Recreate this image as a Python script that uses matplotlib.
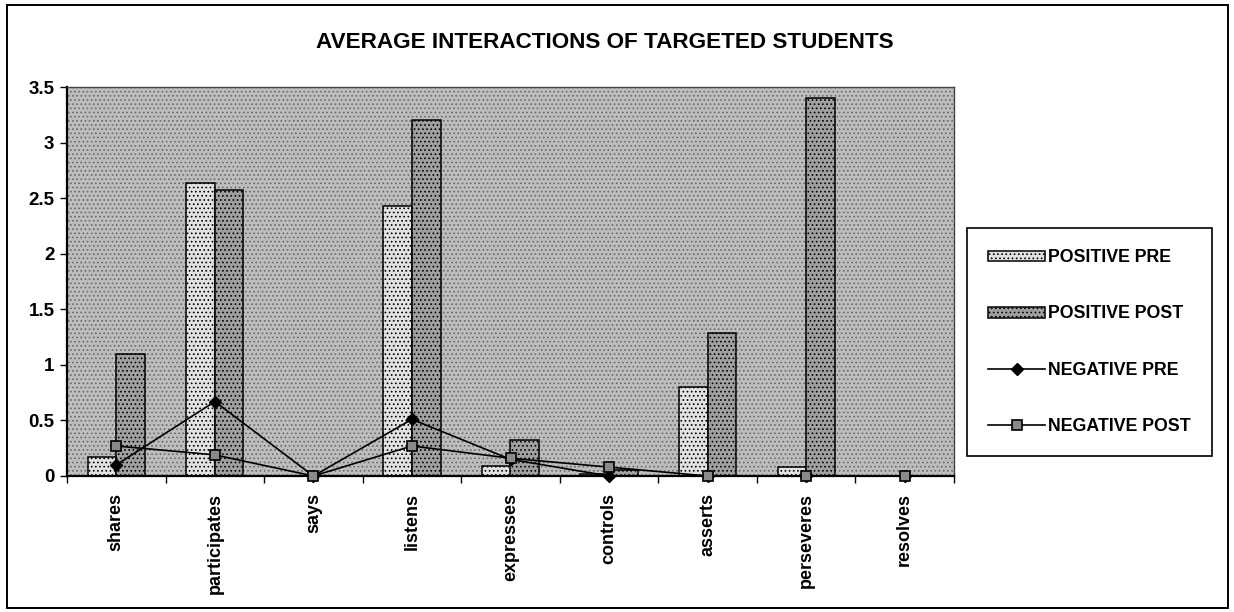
import matplotlib
matplotlib.use("Agg")
import matplotlib.pyplot as plt
import numpy as np
from matplotlib.patches import Rectangle

categories = ["shares", "participates", "says", "listens", "expresses",
              "controls", "asserts", "perseveres", "resolves"]
positive_pre = [0.17, 2.64, 0.0, 2.43, 0.09, 0.02, 0.80, 0.08, 0.0]
positive_post = [1.10, 2.57, 0.0, 3.20, 0.32, 0.05, 1.29, 3.40, 0.0]
negative_pre = [0.10, 0.67, 0.0, 0.51, 0.15, 0.0, 0.0, 0.0, 0.0]
negative_post = [0.27, 0.19, 0.0, 0.27, 0.16, 0.08, 0.0, 0.0, 0.0]
yticks = [0, 0.5, 1, 1.5, 2, 2.5, 3, 3.5]
ytick_labels = ["0", "0.5", "1", "1.5", "2", "2.5", "3", "3.5"]
title = "AVERAGE INTERACTIONS OF TARGETED STUDENTS"

plt.rcParams['font.family'] = ['Liberation Sans', 'DejaVu Sans']
plt.rcParams['hatch.linewidth'] = 0.7

W, H = 1234, 612
fig = plt.figure(figsize=(W / 100, H / 100), dpi=100)
fig.patch.set_facecolor("white")

# outer chart frame
fig.add_artist(Rectangle((7 / W, 4 / H), (1228 - 7) / W, (607 - 4) / H,
                         transform=fig.transFigure, fill=False,
                         edgecolor="black", linewidth=1.4))

left, right, top, bottom = 67, 954, 87, 476
ax = fig.add_axes([left / W, 1 - bottom / H, (right - left) / W, (bottom - top) / H])
ax.set_facecolor("#bdbdbd")
ax.add_patch(Rectangle((0, 0), 1, 1, transform=ax.transAxes, facecolor="none",
                       edgecolor="#6a6a6a", hatch="....", linewidth=0, zorder=0))

x = np.arange(len(categories))
bw = 0.29
b1 = ax.bar(x - bw / 2, positive_pre, bw, color="#e2e2e2", edgecolor="black",
            linewidth=1.1, hatch="....", label="POSITIVE PRE", zorder=2)
b2 = ax.bar(x + bw / 2, positive_post, bw, color="#a0a0a0", edgecolor="black",
            linewidth=1.1, hatch="....", label="POSITIVE POST", zorder=2)

l1, = ax.plot(x, negative_pre, color="black", linewidth=1.2, marker="D",
              markersize=6, markerfacecolor="black", label="NEGATIVE PRE",
              zorder=4, clip_on=False)
l2, = ax.plot(x, negative_post, color="black", linewidth=1.2, marker="s",
              markersize=7, markerfacecolor="#8a8a8a", markeredgecolor="black",
              markeredgewidth=1.2, label="NEGATIVE POST", zorder=5, clip_on=False)

ax.set_xlim(-0.5, len(categories) - 0.5)
ax.set_ylim(0, 3.5)
ax.set_yticks(yticks)
ax.set_yticklabels(ytick_labels, fontsize=13.5, fontweight="bold")
ax.set_xticks(x)
ax.set_xticklabels(categories, rotation=90, fontsize=13, fontweight="bold",
                   va="top", ha="center")
ax.set_xticks(np.arange(-0.5, len(categories) + 0.5, 1), minor=True)
ax.tick_params(axis="x", which="major", length=0, pad=12)
ax.tick_params(axis="x", which="minor", length=5, width=1.0, direction="out")
ax.tick_params(axis="y", length=5, width=1.0, direction="out", pad=4)

for s in ["left", "bottom"]:
    ax.spines[s].set_linewidth(1.6)
for s in ["top", "right"]:
    ax.spines[s].set_linewidth(1.0)
    ax.spines[s].set_color("#444444")

fig.text(605 / W, 1 - 42 / H, title, ha="center", va="center",
         fontsize=16.2, fontweight="bold")

leg = ax.legend([b1, b2, l1, l2],
                ["POSITIVE PRE", "POSITIVE POST", "NEGATIVE PRE", "NEGATIVE POST"],
                loc="upper left", bbox_to_anchor=(967 / W, 1 - 228 / H),
                bbox_transform=fig.transFigure, frameon=True, fancybox=False,
                prop={"weight": "bold", "size": 12.8}, labelspacing=2.2,
                handlelength=3.2, handletextpad=0.17, borderpad=1.2,
                borderaxespad=0.0, edgecolor="black", handleheight=0.55)
leg.get_frame().set_linewidth(1.2)
leg.get_frame().set_facecolor("white")
leg.get_frame().set_alpha(1)

fig.savefig("out.png", dpi=100)
